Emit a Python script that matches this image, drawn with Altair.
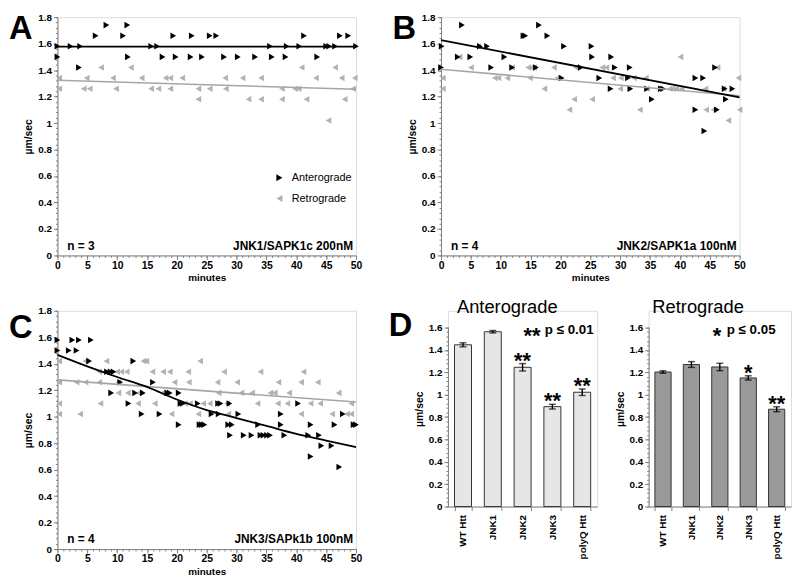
import altair as alt
import pandas as pd

FONT = "Liberation Sans"
BLACK = "#000000"
GRAY = "#b2b2b2"
LINE_GRAY = "#a6a6a6"
AXIS_GRAY = "#808080"

# ---------------- Panel A : JNK1/SAPK1c 200nM ----------------
A_ant_x = [8.2, 11.7,
           6.4, 11.0, 19.4, 22.5, 25.5, 26.6, 41.3, 47.3, 48.7,
           0.0, 2.2, 3.8, 15.7, 16.7, 35.6, 38.4, 40.5, 45.0, 45.5, 46.5, 50.0,
           0.0, 11.8, 17.6, 19.8, 22.3, 24.2, 27.9, 30.2, 33.1, 35.9, 38.2, 43.5,
           3.6]
A_ant_y = [1.74, 1.74,
           1.66, 1.66, 1.66, 1.66, 1.66, 1.66, 1.66, 1.66, 1.66,
           1.58, 1.58, 1.58, 1.58, 1.58, 1.58, 1.58, 1.58, 1.58, 1.58, 1.58, 1.58,
           1.50, 1.50, 1.50, 1.50, 1.50, 1.50, 1.50, 1.50, 1.50, 1.50, 1.50, 1.50,
           1.42]
A_ret_x = [7.3, 12.3, 40.9, 46.5,
           0.3, 4.9, 9.3, 14.1, 18.1, 18.9, 20.9, 28.1, 31.0, 34.1, 43.3, 47.6, 49.8,
           0.3, 4.4, 5.4, 9.8, 15.7, 16.9, 18.9, 23.6, 25.5, 28.2, 37.6, 39.8, 40.4, 49.5,
           23.6, 32.0, 34.1, 37.6, 41.7, 48.1,
           45.4]
A_ret_y = [1.42, 1.42, 1.42, 1.42,
           1.34, 1.34, 1.34, 1.34, 1.34, 1.34, 1.34, 1.34, 1.34, 1.34, 1.34, 1.34, 1.34,
           1.26, 1.26, 1.26, 1.26, 1.26, 1.26, 1.26, 1.26, 1.26, 1.26, 1.26, 1.26, 1.26, 1.26,
           1.18, 1.18, 1.18, 1.18, 1.18, 1.18,
           1.02]
A_fit_x = [0, 50]
A_fit_ant = [1.578, 1.578]
A_fit_ret = [1.324, 1.255]

# ---------------- Panel B : JNK2/SAPK1a 100nM ----------------
B_ant_x = [3.5, 16.4,
           13.8, 14.1, 17.8,
           0.1, 6.5, 7.7, 20.6, 25.2,
           2.8, 4.9, 10.6, 25.3, 28.5,
           0.0, 8.4, 11.9, 15.9, 23.4, 29.1, 31.6, 45.9,
           20.2, 26.5, 31.3, 42.6, 43.9,
           28.4, 31.7, 34.5, 36.8, 37.2, 47.5, 48.8,
           35.3, 47.7,
           42.6, 46.2,
           44.1]
B_ant_y = [1.74, 1.74,
           1.66, 1.66, 1.66,
           1.58, 1.58, 1.58, 1.58, 1.58,
           1.50, 1.50, 1.50, 1.50, 1.50,
           1.42, 1.42, 1.42, 1.42, 1.42, 1.42, 1.42, 1.42,
           1.34, 1.34, 1.34, 1.34, 1.34,
           1.26, 1.26, 1.26, 1.26, 1.26, 1.26, 1.26,
           1.18, 1.18,
           1.10, 1.10,
           0.94]
B_ret_x = [6.2,
           3.1, 40.1,
           5.0, 11.9, 14.6, 15.1, 15.6, 18.9, 22.6, 27.0, 27.7, 46.3,
           0.3, 9.0, 9.6, 11.1, 14.9, 19.5, 28.8, 30.1, 32.3, 34.3, 49.8,
           0.3, 17.3, 30.0, 34.5, 38.3, 38.8, 39.4, 40.3, 44.3, 47.3,
           22.3, 25.3,
           21.5, 33.3, 44.4, 45.6, 50.0,
           48.1]
B_ret_y = [1.58,
           1.50, 1.50,
           1.42, 1.42, 1.42, 1.42, 1.42, 1.42, 1.42, 1.42, 1.42, 1.42,
           1.34, 1.34, 1.34, 1.34, 1.34, 1.34, 1.34, 1.34, 1.34, 1.34, 1.34,
           1.26, 1.26, 1.26, 1.26, 1.26, 1.26, 1.26, 1.26, 1.26, 1.26,
           1.18, 1.18,
           1.10, 1.10, 1.10, 1.10, 1.10,
           1.02]
B_fit_x = [0, 50]
B_fit_ant = [1.626, 1.195]
B_fit_ret = [1.406, 1.207]

# ---------------- Panel C : JNK3/SAPk1b 100nM ----------------
C_ant_x = [0.0, 2.5, 3.6, 5.6,
           0.0, 1.9, 3.2,
           5.3, 12.7,
           8.3, 8.9, 9.4,
           10.5, 16.0,
           9.0, 13.0, 14.3, 18.4, 18.8, 20.3,
           11.9, 20.6, 21.0, 23.5, 26.9, 27.3, 28.8, 40.3,
           14.1, 17.1, 25.8, 27.0, 30.3, 37.4, 47.8,
           20.3, 23.8, 24.2, 24.6, 28.6, 29.2, 33.6, 37.4, 42.4, 46.4, 49.6, 50.0,
           28.9, 31.2, 32.5, 34.0, 34.5, 35.1, 35.6, 38.0, 42.0, 43.8,
           44.2, 45.9,
           42.4,
           47.2]
C_ant_y = [1.58, 1.58, 1.58, 1.58,
           1.50, 1.50, 1.50,
           1.42, 1.42,
           1.34, 1.34, 1.34,
           1.26, 1.26,
           1.18, 1.18, 1.18, 1.18, 1.18, 1.18,
           1.10, 1.10, 1.10, 1.10, 1.10, 1.10, 1.10, 1.10,
           1.02, 1.02, 1.02, 1.02, 1.02, 1.02, 1.02,
           0.94, 0.94, 0.94, 0.94, 0.94, 0.94, 0.94, 0.94, 0.94, 0.94, 0.94, 0.94,
           0.86, 0.86, 0.86, 0.86, 0.86, 0.86, 0.86, 0.86, 0.86, 0.86,
           0.78, 0.78,
           0.70,
           0.62]
C_ret_x = [0.3, 4.7, 8.2, 14.4, 14.9, 23.9,
           7.0, 10.0, 10.7, 11.6, 15.9, 17.7, 18.8, 21.9, 27.9, 34.0, 41.2,
           0.3, 3.2, 4.7, 7.0, 10.2, 19.6, 22.0, 26.8, 30.1, 37.0, 40.8, 43.6,
           10.2, 11.8, 13.6, 17.6, 27.0, 30.8, 32.6, 35.7, 36.4, 38.8, 47.1,
           0.3, 7.2, 13.5, 16.3, 21.4, 22.2, 24.4, 25.5, 28.4, 33.5, 36.9, 38.5, 42.4, 44.0, 49.2,
           0.3, 3.8, 19.1, 23.6, 28.6, 40.8, 46.0, 48.5, 49.2]
C_ret_y = [1.42, 1.42, 1.42, 1.42, 1.42, 1.42,
           1.34, 1.34, 1.34, 1.34, 1.34, 1.34, 1.34, 1.34, 1.34, 1.34, 1.34,
           1.26, 1.26, 1.26, 1.26, 1.26, 1.26, 1.26, 1.26, 1.26, 1.26, 1.26, 1.26,
           1.18, 1.18, 1.18, 1.18, 1.18, 1.18, 1.18, 1.18, 1.18, 1.18, 1.18,
           1.10, 1.10, 1.10, 1.10, 1.10, 1.10, 1.10, 1.10, 1.10, 1.10, 1.10, 1.10, 1.10, 1.10, 1.10,
           1.02, 1.02, 1.02, 1.02, 1.02, 1.02, 1.02, 1.02, 1.02]
C_fit_ant_x = [0, 5, 10, 15, 20, 25, 30, 35, 40, 45, 50]
C_fit_ant = [1.467, 1.38, 1.30, 1.225, 1.13, 1.05, 0.99, 0.93, 0.87, 0.82, 0.771]
C_fit_ret_x = [0, 50]
C_fit_ret = [1.278, 1.111]

# ---------------- Panel D : mean speeds ----------------
D_labels = ["WT Htt", "JNK1", "JNK2", "JNK3", "polyQ Htt"]
D_ant_mean = [1.446, 1.563, 1.245, 0.893, 1.022]
D_ant_err = [0.018, 0.011, 0.033, 0.021, 0.029]
D_ant_sig = ["", "", "**", "**", "**"]
D_ret_mean = [1.203, 1.270, 1.248, 1.150, 0.870]
D_ret_err = [0.011, 0.026, 0.033, 0.019, 0.022]
D_ret_sig = ["", "", "", "*", "**"]

SC_X_TICKS = [0, 5, 10, 15, 20, 25, 30, 35, 40, 45, 50]
SC_X_MINOR = list(range(0, 51))
SC_Y_TICKS = [0, 0.2, 0.4, 0.6, 0.8, 1.0, 1.2, 1.4, 1.6, 1.8]
SC_Y_MINOR = [round(i * 0.04, 2) for i in range(0, 46)]
D_Y_TICKS = [0, 0.2, 0.4, 0.6, 0.8, 1.0, 1.2, 1.4, 1.6]
D_Y_MINOR = [round(i * 0.04, 2) for i in range(0, 41)]

W, H = 302, 241
DIRS = ["Anterograde", "Retrograde"]


def text_layer(text, x, y, size, weight="bold", align="left", baseline="middle", opacity=1):
    return alt.Chart(pd.DataFrame({"t": [text]})).mark_text(
        font=FONT, fontSize=size, fontWeight=weight, align=align, baseline=baseline,
        color=BLACK, opacity=opacity
    ).encode(text="t:N", x=alt.value(x), y=alt.value(y))


def scatter_panel(ant_x, ant_y, ret_x, ret_y, fa_x, fa_y, fr_x, fr_y,
                  letter, letter_y, n_text, drug_text, legend):
    pts = pd.DataFrame({
        "minutes": ret_x + ant_x,
        "speed": ret_y + ant_y,
        "direction": ["Retrograde"] * len(ret_x) + ["Anterograde"] * len(ant_x),
    })
    xs = alt.Scale(domain=[0, 50], nice=False, zero=False)
    ys = alt.Scale(domain=[0, 1.8], nice=False)

    main_x = alt.X("minutes:Q", scale=xs, axis=alt.Axis(
        values=SC_X_TICKS, title="minutes", orient="bottom", grid=False,
        labelFont=FONT, labelFontSize=10.5, labelFontWeight="bold", labelColor=BLACK,
        titleFont=FONT, titleFontSize=10, titleFontWeight="bold", titleColor=BLACK,
        domainColor=AXIS_GRAY, tickColor=AXIS_GRAY, tickSize=4, labelPadding=1,
        titlePadding=2, labelFlush=False))
    main_y = alt.Y("speed:Q", scale=ys, axis=alt.Axis(
        values=SC_Y_TICKS, format="~g", title="µm/sec", orient="left", grid=False,
        labelFont=FONT, labelFontSize=10, labelFontWeight="bold", labelColor=BLACK,
        titleFont=FONT, titleFontSize=10.5, titleFontWeight="bold", titleColor=BLACK,
        domainColor=AXIS_GRAY, tickColor=AXIS_GRAY, tickSize=4, labelPadding=2,
        titlePadding=4))

    minor = alt.Chart(pts).mark_point(opacity=0).encode(
        x=alt.X("minutes:Q", scale=xs, axis=alt.Axis(
            values=SC_X_MINOR, labels=False, domain=False, grid=False, title=None,
            orient="bottom", tickSize=2, tickColor=AXIS_GRAY)),
        y=alt.Y("speed:Q", scale=ys, axis=alt.Axis(
            values=SC_Y_MINOR, labels=False, domain=False, grid=False, title=None,
            orient="left", tickSize=2, tickColor=AXIS_GRAY)),
    )

    if legend:
        leg = alt.Legend(orient="none", legendX=219, legendY=157, title=None,
                         labelFont=FONT, labelFontSize=11, labelColor=BLACK,
                         symbolSize=50, rowPadding=9, labelOffset=7,
                         symbolStrokeWidth=0)
    else:
        leg = None
    color = alt.Color("direction:N", scale=alt.Scale(domain=DIRS, range=[BLACK, GRAY]), legend=leg)
    shape = alt.Shape("direction:N", scale=alt.Scale(domain=DIRS, range=["triangle-right", "triangle-left"]), legend=leg)

    points = alt.Chart(pts).mark_point(filled=True, size=44, opacity=1).encode(
        x=main_x, y=main_y, color=color, shape=shape)

    fa = pd.DataFrame({"minutes": fa_x, "speed": fa_y})
    fr = pd.DataFrame({"minutes": fr_x, "speed": fr_y})
    line_ret = alt.Chart(fr).mark_line(color=LINE_GRAY, strokeWidth=1.6).encode(
        x=alt.X("minutes:Q", scale=xs, axis=None), y=alt.Y("speed:Q", scale=ys, axis=None))
    line_ant = alt.Chart(fa).mark_line(color=BLACK, strokeWidth=1.8, interpolate="monotone").encode(
        x=alt.X("minutes:Q", scale=xs, axis=None), y=alt.Y("speed:Q", scale=ys, axis=None))

    layers = [minor, points, line_ret, line_ant,
              text_layer(letter, -49, letter_y, 33, baseline="top"),
              text_layer(n_text, 10, 231, 12),
              text_layer(drug_text, 299, 231, 12, align="right")]
    return alt.layer(*layers).resolve_axis(x="independent", y="independent").properties(width=W, height=H)


def bar_panel(means, errs, sig, fill, title, title_x, p_star, p_text, star_x, text_x, width, letter=None):
    df = pd.DataFrame({
        "cond": D_labels,
        "mean": means,
        "lo": [m - e for m, e in zip(means, errs)],
        "hi": [m + e for m, e in zip(means, errs)],
        "sig": sig,
    })
    ys = alt.Scale(domain=[0, 1.75], nice=False)
    xs = alt.Scale(paddingInner=0.43, paddingOuter=0.22)
    x = alt.X("cond:N", sort=D_labels, scale=xs, axis=alt.Axis(
        title=None, labelAngle=-90, tickBand="extent", labelFont=FONT, labelFontSize=10,
        labelFontWeight="bold", labelColor=BLACK, domainColor=AXIS_GRAY, tickColor=AXIS_GRAY,
        tickSize=4, labelPadding=4, orient="bottom"))
    xn = alt.X("cond:N", sort=D_labels, scale=xs, axis=None)
    y_main = alt.Y("mean:Q", scale=ys, axis=alt.Axis(
        values=D_Y_TICKS, format="~g", title="µm/sec", orient="left", grid=False, domain=False,
        labelFont=FONT, labelFontSize=10, labelFontWeight="bold", labelColor=BLACK,
        titleFont=FONT, titleFontSize=10.5, titleFontWeight="bold", titleColor=BLACK,
        tickColor=AXIS_GRAY, tickSize=4, labelPadding=2, titlePadding=4))

    minor = alt.Chart(df).mark_point(opacity=0).encode(
        y=alt.Y("mean:Q", scale=ys, axis=alt.Axis(
            values=D_Y_MINOR, labels=False, domain=False, grid=False, title=None,
            orient="left", tickSize=2, tickColor=AXIS_GRAY)))
    axis_line = alt.Chart(pd.DataFrame({"a": [0]})).mark_rule(color=AXIS_GRAY, strokeWidth=1).encode(
        x=alt.value(0.5), y=alt.Y(datum=0, type="quantitative", scale=ys, axis=None), y2=alt.Y2(datum=1.6))
    bars = alt.Chart(df).mark_bar(color=fill, stroke="#333333", strokeWidth=1).encode(x=x, y=y_main)
    rule = alt.Chart(df).mark_rule(color=BLACK, strokeWidth=1.4).encode(
        x=xn, y=alt.Y("lo:Q", scale=ys, axis=None), y2="hi:Q")
    cap_lo = alt.Chart(df).mark_tick(color=BLACK, size=7, thickness=1.4, orient="horizontal").encode(
        x=xn, y=alt.Y("lo:Q", scale=ys, axis=None))
    cap_hi = alt.Chart(df).mark_tick(color=BLACK, size=7, thickness=1.4, orient="horizontal").encode(
        x=xn, y=alt.Y("hi:Q", scale=ys, axis=None))
    stars = alt.Chart(df).mark_text(font=FONT, fontSize=22, fontWeight="bold", baseline="alphabetic",
                                    dy=4, color=BLACK).encode(
        x=xn, y=alt.Y("hi:Q", scale=ys, axis=None), text="sig:N")

    layers = [minor, axis_line, bars, rule, cap_lo, cap_hi, stars,
              text_layer(p_star, star_x, 33, 22, align="center", baseline="alphabetic"),
              text_layer(p_text, text_x, 19, 13.5),
              text_layer(title, title_x, -4, 18.5, weight="normal", align="center")]
    if letter:
        layers.append(text_layer(letter, -60, -1, 33, baseline="top"))
        layers.append(text_layer(letter, -69, -1, 33, baseline="top", opacity=0))
    return alt.layer(*layers).resolve_axis(x="independent", y="independent").properties(width=width, height=198)


pA = scatter_panel(A_ant_x, A_ant_y, A_ret_x, A_ret_y, A_fit_x, A_fit_ant, A_fit_x, A_fit_ret,
                   "A", -4, "n = 3", "JNK1/SAPK1c  200nM", True)
pB = scatter_panel(B_ant_x, B_ant_y, B_ret_x, B_ret_y, B_fit_x, B_fit_ant, B_fit_x, B_fit_ret,
                   "B", -4, "n = 4", "JNK2/SAPK1a 100nM", False)
pC = scatter_panel(C_ant_x, C_ant_y, C_ret_x, C_ret_y, C_fit_ant_x, C_fit_ant, C_fit_ret_x, C_fit_ret,
                   "C", 1, "n = 4", "JNK3/SAPk1b 100nM", False)
pD1 = bar_panel(D_ant_mean, D_ant_err, D_ant_sig, "#e6e6e6", "Anterograde", 60,
                "**", "p ≤ 0.01", 85, 98, 151, letter="D")
pD2 = bar_panel(D_ret_mean, D_ret_err, D_ret_sig, "#9a9a9a", "Retrograde", 50,
                "*", "p ≤ 0.05", 69, 79, 144)

row1 = alt.hconcat(pA, pB, spacing=29).resolve_scale(
    color="independent", shape="independent").resolve_legend(color="independent", shape="independent")
row2 = alt.hconcat(pC, pD1, pD2, spacing=16).resolve_scale(
    color="independent", shape="independent").resolve_legend(color="independent", shape="independent")

chart = alt.vconcat(row1, row2, spacing=14).resolve_scale(
    color="independent", shape="independent").resolve_legend(
    color="independent", shape="independent").properties(
    padding={"left": 0, "top": 0, "right": 0, "bottom": 0}
).configure_view(stroke=None).configure(font=FONT)

chart.save("out.html", embed_options={"renderer": "svg", "actions": False})
